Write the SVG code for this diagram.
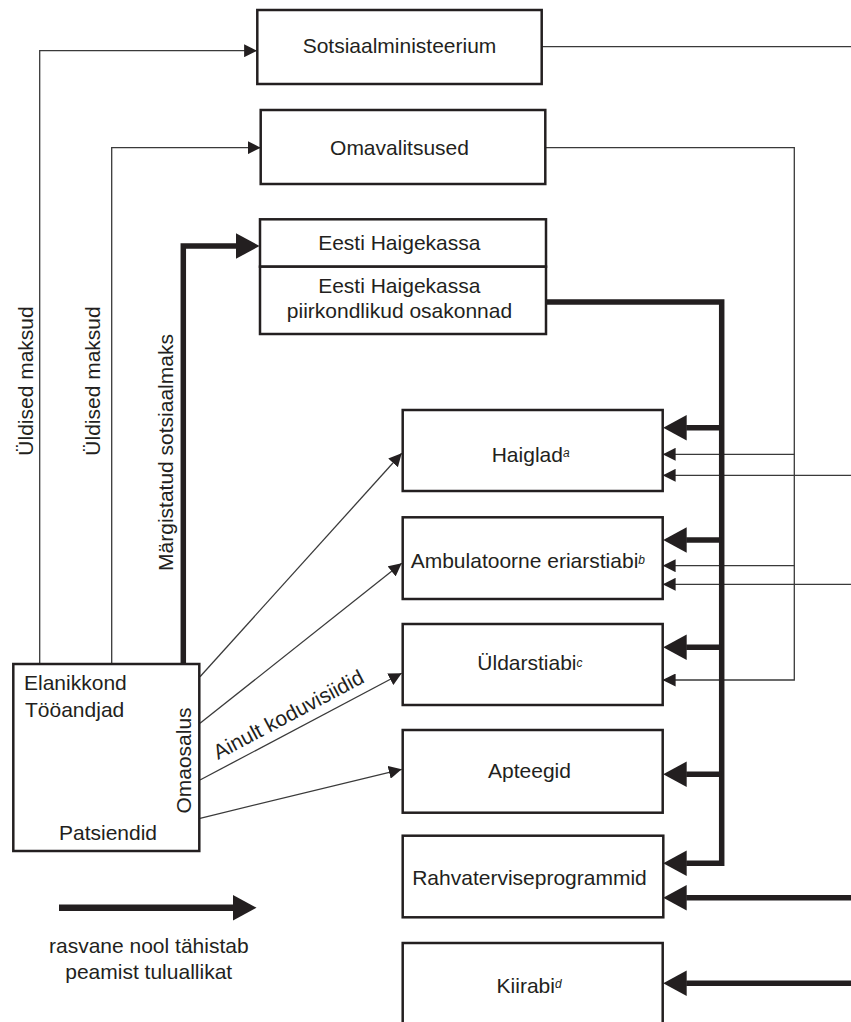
<svg xmlns="http://www.w3.org/2000/svg" width="851" height="1022" viewBox="0 0 851 1022">
<style>
.box{fill:#fff;stroke:#231f20;stroke-width:2.5}
.t{font-family:"Liberation Sans",Arial,sans-serif;font-size:21px;fill:#231f20}
.m{text-anchor:middle}
.sup{font-size:12px;font-style:italic}
.thin{fill:none;stroke:#3a3a3a;stroke-width:1.3}
.thick{fill:none;stroke:#231f20;stroke-width:5.5;stroke-linejoin:miter}
</style>
<defs>
<marker id="ah" markerUnits="userSpaceOnUse" markerWidth="13" markerHeight="13" viewBox="0 0 12.5 12.6" refX="12.5" refY="6.3" orient="auto"><path d="M0,0 L12.5,6.3 L0,12.6 z" fill="#231f20"/></marker>
<marker id="AH" markerUnits="userSpaceOnUse" markerWidth="25" markerHeight="26" viewBox="0 -13 24 26" refX="0.5" refY="0" orient="auto" overflow="visible"><path d="M0,-12.8 L23.5,0 L0,12.8 z" fill="#231f20"/></marker>
</defs>

<g id="connectors">
<path class="thin" d="M39.7,664 V50.7 H257" marker-end="url(#ah)"/>
<path class="thin" d="M111.7,664 V147.7 H260.7" marker-end="url(#ah)"/>
<path class="thin" d="M541.7,46.7 H851"/>
<path class="thin" d="M545.3,147.7 H794.3 V680 H662.7" marker-end="url(#ah)"/>
<path class="thin" d="M794.3,454.3 H662.7" marker-end="url(#ah)"/>
<path class="thin" d="M794.3,565.7 H662.7" marker-end="url(#ah)"/>
<path class="thin" d="M851,475.3 H662.7" marker-end="url(#ah)"/>
<path class="thin" d="M851,584.3 H662.7" marker-end="url(#ah)"/>
<path class="thin" d="M200,676.7 L401.7,453.3" marker-end="url(#ah)"/>
<path class="thin" d="M200,723.3 L401.7,563.3" marker-end="url(#ah)"/>
<path class="thin" d="M200,780 L401.7,673.3" marker-end="url(#ah)"/>
<path class="thin" d="M200,818.3 L401.7,769.3" marker-end="url(#ah)"/>
<path class="thick" d="M183.3,664 V246 H236.5" marker-end="url(#AH)"/>
<path class="thick" d="M546,302 H721.7 V863.3 H686.2" marker-end="url(#AH)"/>
<path class="thick" d="M721.7,427.7 H686.2" marker-end="url(#AH)"/>
<path class="thick" d="M721.7,540 H686.2" marker-end="url(#AH)"/>
<path class="thick" d="M721.7,647.3 H686.2" marker-end="url(#AH)"/>
<path class="thick" d="M721.7,774.3 H686.2" marker-end="url(#AH)"/>
<path class="thick" d="M851,897.7 H686.2" marker-end="url(#AH)"/>
<path class="thick" d="M851,983.3 H686.2" marker-end="url(#AH)"/>
<text class="t" transform="translate(33,381) rotate(-90)" text-anchor="middle">Üldised maksud</text>
<text class="t" transform="translate(100,381) rotate(-90)" text-anchor="middle">Üldised maksud</text>
<text class="t" transform="translate(172.5,452.5) rotate(-90)" text-anchor="middle">Märgistatud sotsiaalmaks</text>
<text class="t" transform="translate(218,760) rotate(-27.9)">Ainult koduvisiidid</text>
</g>

<g id="sotsiaalministeerium">
<rect class="box" x="257.3" y="10" width="284.4" height="74"/>
<text class="t m" x="399.5" y="53.3">Sotsiaalministeerium</text>
</g>
<g id="omavalitsused">
<rect class="box" x="260.7" y="110" width="284.6" height="74"/>
<text class="t m" x="399.5" y="155">Omavalitsused</text>
</g>
<g id="haigekassa">
<rect class="box" x="260" y="219.3" width="286" height="47.4"/>
<text class="t m" x="399.3" y="249.5">Eesti Haigekassa</text>
</g>
<g id="haigekassa-osakonnad">
<rect class="box" x="260" y="266.7" width="286" height="67.3"/>
<text class="t m" x="399.3" y="292.7">Eesti Haigekassa</text>
<text class="t m" x="399.5" y="318.3">piirkondlikud osakonnad</text>
</g>
<g id="haiglad">
<rect class="box" x="402.7" y="410" width="260" height="81"/>
<text class="t" x="491.7" y="461.5">Haiglad<tspan class="sup" dy="-5">a</tspan></text>
</g>
<g id="ambulatoorne">
<rect class="box" x="402.7" y="517.3" width="260" height="81.7"/>
<text class="t" x="410.7" y="568.3">Ambulatoorne eriarstiabi<tspan class="sup" dy="-4">b</tspan></text>
</g>
<g id="yldarstiabi">
<rect class="box" x="402.7" y="624" width="260" height="81"/>
<text class="t" x="477.3" y="670">Üldarstiabi<tspan class="sup" dy="-3.5">c</tspan></text>
</g>
<g id="apteegid">
<rect class="box" x="402.7" y="730" width="260" height="82.7"/>
<text class="t m" x="529.5" y="778.3">Apteegid</text>
</g>
<g id="rahvatervis">
<rect class="box" x="402.7" y="835.7" width="260.6" height="81.6"/>
<text class="t m" x="529.5" y="885">Rahvaterviseprogrammid</text>
</g>
<g id="kiirabi">
<rect class="box" x="402.7" y="943" width="260" height="90"/>
<text class="t" x="496.6" y="993.3">Kiirabi<tspan class="sup" dy="-5">d</tspan></text>
</g>
<g id="elanikkond">
<rect class="box" x="13.3" y="664" width="186" height="187"/>
<text class="t" x="24" y="690">Elanikkond</text>
<text class="t" x="25" y="717.3">Tööandjad</text>
<text class="t m" x="108" y="840">Patsiendid</text>
<text class="t" transform="translate(191,760.5) rotate(-90)" text-anchor="middle">Omaosalus</text>
</g>
<g id="legend">
<path class="thick" d="M59,907.7 H233.5" style="stroke-width:6.5" marker-end="url(#AH)"/>
<text class="t m" x="148.8" y="953.3">rasvane nool tähistab</text>
<text class="t m" x="148.7" y="979.3">peamist tuluallikat</text>
</g>
</svg>
